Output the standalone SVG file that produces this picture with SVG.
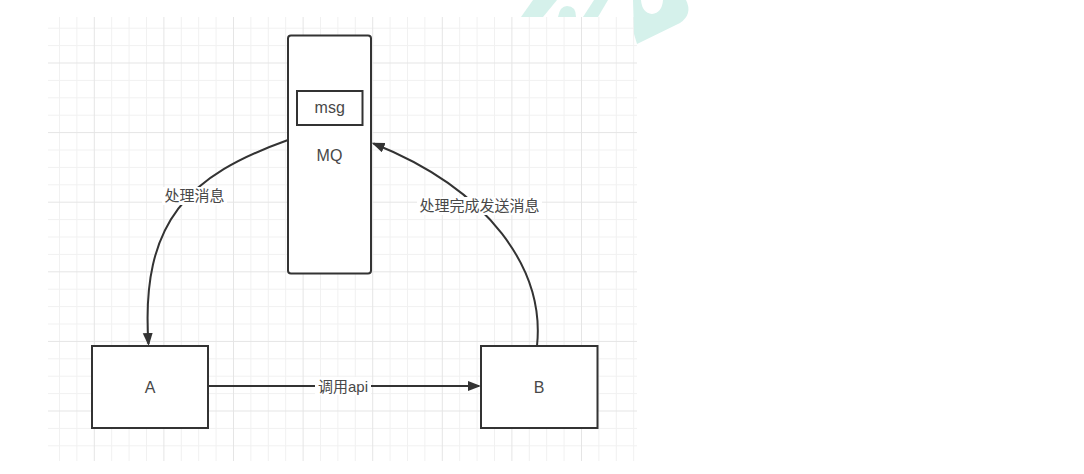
<svg xmlns="http://www.w3.org/2000/svg" width="1084" height="474" viewBox="0 0 1084 474">
<style>
.minor{stroke:#f1f1f1;stroke-width:1;fill:none}
.major{stroke:#e5e5e5;stroke-width:1;fill:none}
.box{fill:#ffffff;stroke:#333333;stroke-width:2}
.edge{fill:none;stroke:#333333;stroke-width:2}
.node-text{font-family:"Liberation Sans","Noto Sans CJK SC",sans-serif;font-size:16px;fill:#484848;text-anchor:middle}
.edge-text{font-family:"Liberation Sans","Noto Sans CJK SC",sans-serif;font-size:15px;fill:#484848;text-anchor:middle}
.lbg{fill:#ffffff}
.wm{fill:#d5f1eb}
</style>
<defs>
<marker id="arrow" markerUnits="userSpaceOnUse" markerWidth="16" markerHeight="12" refX="11" refY="5" orient="auto">
<path d="M0,0 L13,5 L0,10 Z" fill="#333333"/>
</marker>
<clipPath id="gridclip"><rect x="48" y="17" width="589" height="444"/></clipPath>
</defs>
<rect x="0" y="0" width="1084" height="474" fill="#ffffff"/>
<g id="grid" clip-path="url(#gridclip)">
<path class="minor" d="M59.5 17V461M76.9 17V461M111.7 17V461M129.1 17V461M146.5 17V461M181.3 17V461M198.7 17V461M216.1 17V461M250.9 17V461M268.3 17V461M285.7 17V461M320.5 17V461M337.9 17V461M355.3 17V461M390.1 17V461M407.5 17V461M424.9 17V461M459.7 17V461M477.1 17V461M494.5 17V461M529.3 17V461M546.7 17V461M564.1 17V461M598.9 17V461M616.3 17V461M633.7 17V461
M48 28.2H637M48 45.6H637M48 80.4H637M48 97.8H637M48 115.2H637M48 150H637M48 167.4H637M48 184.8H637M48 219.6H637M48 237H637M48 254.4H637M48 289.2H637M48 306.6H637M48 324H637M48 358.8H637M48 376.2H637M48 393.6H637M48 428.4H637M48 445.8H637"/>
<path class="major" d="M94.3 17V461M163.9 17V461M233.5 17V461M303.1 17V461M372.7 17V461M442.3 17V461M511.9 17V461M581.5 17V461
M48 63H637M48 132.6H637M48 202.2H637M48 271.8H637M48 341.4H637M48 411H637"/>
</g>
<g id="watermark">
<path class="wm" d="M521 17 L533 0 L557 0 L543 17 Z"/>
<path class="wm" d="M558 17 Q560 6 567 6 Q576 6 576 17 Z"/>
<path class="wm" d="M583 17 L594 0 L608 0 L598 17 Z"/>
<path class="wm" d="M633 0 L641 0 Q642 13 652 14 Q662 13 663 0 L686 0 Q693 14 680 23 L637 44 L634 34 Z"/>
</g>
<g id="connectors">
<path class="edge" d="M209 386 L479 386" marker-end="url(#arrow)"/>
<path class="edge" d="M288 140 C190 175 140 220 148.5 344" marker-end="url(#arrow)"/>
<path class="edge" d="M537 346 C545 270 490 190 373.5 143.5" marker-end="url(#arrow)"/>
<rect class="lbg" x="162" y="187" width="65" height="18"/>
<text class="edge-text" x="194.5" y="201">处理消息</text>
<rect class="lbg" x="417" y="197" width="125" height="18"/>
<text class="edge-text" x="479.5" y="211">处理完成发送消息</text>
<rect class="lbg" x="315" y="377" width="56" height="18"/>
<text class="edge-text" x="343" y="392">调用api</text>
</g>
<g id="node-mq">
<rect class="box" x="288" y="35.5" width="83" height="238" rx="3" ry="3"/>
<text class="node-text" x="329.5" y="161">MQ</text>
</g>
<g id="node-msg">
<rect class="box" x="297" y="91" width="65.5" height="34"/>
<text class="node-text" x="329.7" y="113">msg</text>
</g>
<g id="node-a">
<rect class="box" x="92" y="346" width="116" height="82"/>
<text class="node-text" x="150" y="393">A</text>
</g>
<g id="node-b">
<rect class="box" x="481" y="346" width="116.5" height="82"/>
<text class="node-text" x="539" y="393">B</text>
</g>
</svg>
